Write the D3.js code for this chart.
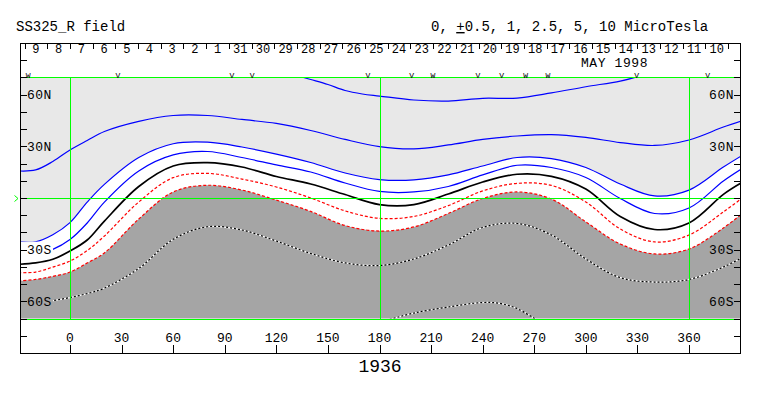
<!DOCTYPE html>
<html><head><meta charset="utf-8">
<script src="https://cdn.jsdelivr.net/npm/d3@7"></script>
<style>
body{margin:0;background:#fff;}
svg{display:block;}
text{font-family:"Liberation Mono","DejaVu Sans Mono",monospace;fill:#000;}
</style></head><body>
<svg id="chart" width="763" height="396"></svg>
<script>
// ---- data ----
const lons = [-30,-20,-10,0,10,20,40,60,80,100,120,140,160,180,200,220,240,260,280,300,320,340,360,380,391];
const fieldPos2_5 = [15.7,16.3,21.2,27.9,33.4,38.6,44.5,47.9,47.9,45.6,43.3,39.2,34.0,29.8,28.5,30.8,34.0,36.0,36.8,35.2,32.2,30.5,33.7,41.2,44.9];
const fieldPos1   = [-25.4,-25.4,-21.3,-14.3,-2.4,7.9,23.5,31.5,32.4,29.6,25.5,20.6,14.5,10.7,10.5,13.4,18.6,23.5,22.9,17.7,8.1,1.2,4.6,18.0,24.8];
const fieldPos0_5 = [-33.7,-32.5,-29.8,-24.1,-14.5,-2.4,15.7,25.0,27.0,23.5,19.2,15.1,8.7,3.8,3.5,6.7,13.4,19.0,17.7,11.9,-0.3,-9.0,-5.8,9.9,17.2];
const fieldZero   = [-38.5,-37.7,-35.6,-30.8,-24.4,-13.4,6.7,18.6,20.5,18.0,12.5,8.1,2.0,-3.8,-3.8,2.3,9.3,13.8,12.6,5.2,-10.7,-18.3,-14.5,2.1,9.1];
const fieldNeg0_5 = [-43.4,-43.0,-40.1,-36.6,-30.5,-22.1,-2.3,11.8,14.3,11.0,6.4,0.0,-7.5,-11.8,-10.7,-4.4,4.1,8.5,7.3,-2.3,-18.0,-25.5,-21.5,-8.1,0.0];
const fieldNeg1   = [-48.2,-47.3,-45.5,-43.0,-37.7,-31.9,-12.2,3.5,7.4,4.6,-1.2,-7.8,-16.0,-19.2,-16.8,-9.0,-0.3,3.5,-0.6,-13.9,-26.7,-32.5,-29.6,-17.4,-9.0];
const fieldNeg2_5 = [-61.5,-61.2,-59.6,-57.8,-55.5,-52.3,-40.9,-24.0,-16.7,-18.6,-25.0,-32.2,-37.7,-39.2,-35.4,-27.3,-17.1,-14.8,-21.5,-35.4,-46.2,-48.8,-47.3,-40.1,-34.5];
const lonsPos5  = [133,140,150,160,170,180,200,220,240,260,280,300,320,330];
const fieldPos5 = [70.8,68.8,65.9,62.4,60.4,59.2,56.9,56.3,57.9,58.0,61.0,64.6,67.9,70.5];
const lonsNeg5  = [186,200,220,240,250,260,271];
const fieldNeg5 = [-70.5,-66.8,-63.3,-60.7,-61.2,-64.2,-70.5];

const xTickValues = [0,30,60,90,120,150,180,210,240,270,300,330,360];
const latLabelValues = [60,30,-30,-60];
const latLabelTexts = ["60N","30N","30S","60S"];
const dayLabels = ["9","8","7","6","5","4","3","2","1","31","30","29","28","27","26","25","24","23","22","21","20","19","18","17","16","15","14","13","12","11","10"];
const firstDayIndex = -2;
const markerLons  = [-24.4,27.9,94.2,105.9,173.3,198.7,211.1,237.3,251.1,265.0,278.0,329.6,370.8];
const markerTypes = ["W","V","V","V","V","V","W","V","V","W","W","V","V"];
const titleLeft = "SS325_R field";
const monthLabel = "MAY 1998";
const rotationLabel = "1936";

// ---- scales ----
const x = d3.scaleLinear().domain([0,360]).range([70,689]);
const y = d3.scaleLinear().domain([-90,90]).range([353,43]);
const degPerDay = 360/27.2753;
const L = 20, R = 741, T = 43, B = 353;

const svg = d3.select("#chart");
const defs = svg.append("defs");
defs.append("clipPath").attr("id","plotClip").append("rect")
  .attr("x",L).attr("y",y(70)).attr("width",R-L).attr("height",y(-70)-y(70));
const mask = defs.append("mask").attr("id","labelMask").attr("maskUnits","userSpaceOnUse")
  .attr("x",0).attr("y",0).attr("width",763).attr("height",396);
mask.append("rect").attr("x",0).attr("y",0).attr("width",763).attr("height",396).attr("fill","#fff");
latLabelValues.forEach(v=>{
  mask.append("rect").attr("x",L).attr("y",y(v)-8).attr("width",33).attr("height",16).attr("fill","#000");
  mask.append("rect").attr("x",R-33).attr("y",y(v)-8).attr("width",33).attr("height",16).attr("fill","#000");
});

const mk = (ls, vs) => ls.map((l,i)=>({lon:l, lat:vs[i]}));
const curve = d3.curveCatmullRom.alpha(0.5);
const line = d3.line().x(d=>x(d.lon)).y(d=>y(d.lat)).curve(curve);

const plot = svg.append("g").attr("clip-path","url(#plotClip)");
// fills
plot.append("path").datum(mk(lons,fieldPos1))
  .attr("d", d3.area().x(d=>x(d.lon)).y0(y(75)).y1(d=>y(d.lat)).curve(curve))
  .attr("fill","#e8e8e8");
plot.append("path").datum(mk(lons,fieldNeg1))
  .attr("d", d3.area().x(d=>x(d.lon)).y0(d=>y(d.lat)).y1(y(-75)).curve(curve))
  .attr("fill","#a5a5a5");

const lines = plot.append("g").attr("mask","url(#labelMask)").attr("fill","none");
const blue = [mk(lonsPos5,fieldPos5), mk(lons,fieldPos2_5), mk(lons,fieldPos1), mk(lons,fieldPos0_5)];
blue.forEach(d=>lines.append("path").datum(d).attr("d",line).attr("stroke","#0000ff").attr("stroke-width",1.2));
lines.append("path").datum(mk(lons,fieldZero)).attr("d",line).attr("stroke","#000").attr("stroke-width",1.7);
[mk(lons,fieldNeg0_5), mk(lons,fieldNeg1)].forEach(d=>
  lines.append("path").datum(d).attr("d",line).attr("stroke","#ff0000").attr("stroke-width",1.2).attr("stroke-dasharray","3,2"));
[mk(lons,fieldNeg2_5), mk(lonsNeg5,fieldNeg5)].forEach(d=>{
  lines.append("path").datum(d).attr("d",line).attr("stroke","#fff").attr("stroke-width",1.2);
  lines.append("path").datum(d).attr("d",line).attr("stroke","#000").attr("stroke-width",1.2).attr("stroke-dasharray","2,2");
});

// green grid
const g = svg.append("g").attr("stroke","#00ff00").attr("stroke-width",1).attr("shape-rendering","crispEdges");
[70,-70,0].forEach(v=>g.append("line").attr("x1",L).attr("x2",R).attr("y1",Math.round(y(v))+0.5).attr("y2",Math.round(y(v))+0.5));
[0,180,360].forEach(v=>g.append("line").attr("x1",Math.round(x(v))+0.5).attr("x2",Math.round(x(v))+0.5).attr("y1",y(70)).attr("y2",y(-70)));
svg.append("path").attr("d",`M14.5,195.5 L18,198.5 L14.5,201.5`).attr("stroke","#00ff00").attr("fill","none");

// frame and ticks
const ax = svg.append("g").attr("stroke","#000").attr("stroke-width",1).attr("shape-rendering","crispEdges").attr("fill","none");
ax.append("rect").attr("x",L+0.5).attr("y",T+0.5).attr("width",R-L-1).attr("height",B-T-0.5);
d3.range(-80,81,10).forEach(v=>{
  const yy = Math.round(y(v))+0.5;
  ax.append("line").attr("x1",L).attr("x2",L+7).attr("y1",yy).attr("y2",yy);
  ax.append("line").attr("x1",R-7).attr("x2",R).attr("y1",yy).attr("y2",yy);
});
xTickValues.forEach(v=>{
  const xx = Math.round(x(v))+0.5;
  ax.append("line").attr("x1",xx).attr("x2",xx).attr("y1",345).attr("y2",B);
});
for (let k=firstDayIndex; k<=firstDayIndex+dayLabels.length; k++){
  const xx = Math.round(x(k*degPerDay))+0.5;
  ax.append("line").attr("x1",xx).attr("x2",xx).attr("y1",44).attr("y2",49);
}

// texts
svg.append("text").attr("x",16).attr("y",31).attr("font-size",14).text(titleLeft);
const rt = svg.append("text").attr("x",431).attr("y",31).attr("font-size",14);
rt.append("tspan").text("0, ");
rt.append("tspan").style("text-decoration","underline").text("+");
rt.append("tspan").text("0.5, 1, 2.5, 5, 10 MicroTesla");

dayLabels.forEach((t,i)=>{
  const k = firstDayIndex + i;
  svg.append("text").attr("x",x((k+0.5)*degPerDay)).attr("y",53).attr("font-size",12)
    .attr("text-anchor","middle").text(t);
});
svg.append("text").attr("x",614.5).attr("y",67).attr("font-size",13).attr("letter-spacing",0.6)
  .attr("text-anchor","middle").text(monthLabel);
markerLons.forEach((v,i)=>{
  svg.append("text").attr("x",x(v)).attr("y",77.5).attr("font-size",8).attr("text-anchor","middle").text(markerTypes[i]);
});
latLabelValues.forEach((v,i)=>{
  svg.append("text").attr("x",L+7).attr("y",y(v)+4.5).attr("font-size",13).attr("letter-spacing",0.5).text(latLabelTexts[i]);
  svg.append("text").attr("x",R-7).attr("y",y(v)+4.5).attr("font-size",13).attr("letter-spacing",0.5).attr("text-anchor","end").text(latLabelTexts[i]);
});
xTickValues.forEach(v=>{
  svg.append("text").attr("x",x(v)).attr("y",342).attr("font-size",13).attr("text-anchor","middle").text(v);
});
svg.append("text").attr("x",380).attr("y",372).attr("font-size",18).attr("text-anchor","middle").text(rotationLabel);
</script>
</body></html>
